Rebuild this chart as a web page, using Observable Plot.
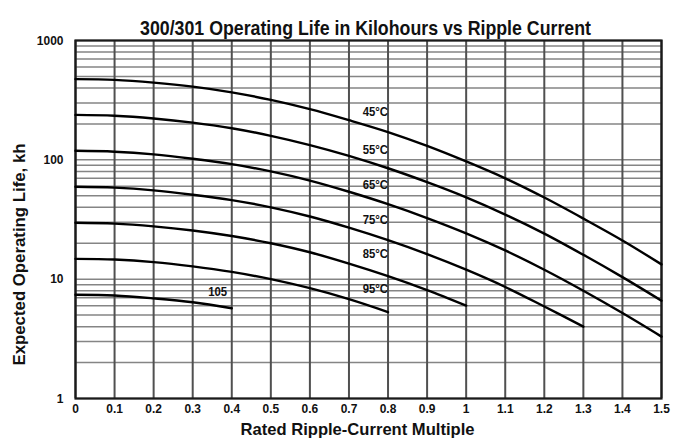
<!DOCTYPE html>
<html>
<head>
<meta charset="utf-8">
<script src="https://cdn.jsdelivr.net/npm/d3@7"></script>
<script src="https://cdn.jsdelivr.net/npm/@observablehq/plot@0.6"></script>
<style>
  html, body { margin: 0; padding: 0; background: #fff; }
  svg text { font-family: "Liberation Sans", Arial, sans-serif; font-weight: bold; }
</style>
</head>
<body>
<div id="chart"></div>
<script>
// ---- data ----
const titleText = "300/301 Operating Life in Kilohours vs Ripple Current";
const xTitle = "Rated Ripple-Current Multiple";
const yTitle = "Expected Operating Life, kh";

const xTicks = [0, 0.1, 0.2, 0.3, 0.4, 0.5, 0.6, 0.7, 0.8, 0.9, 1.0, 1.1, 1.2, 1.3, 1.4, 1.5];
const xTickLabels = ["0", "0.1", "0.2", "0.3", "0.4", "0.5", "0.6", "0.7", "0.8", "0.9", "1", "1.1", "1.2", "1.3", "1.4", "1.5"];
const yTicks = [1, 10, 100, 1000];
const yTickLabels = ["1", "10", "100", "1000"];
const yGrid = [1, 2, 3, 4, 5, 6, 7, 8, 9, 10, 20, 30, 40, 50, 60, 70, 80, 90, 100, 200, 300, 400, 500, 600, 700, 800, 900, 1000];

const seriesNames = ["45°C", "55°C", "65°C", "75°C", "85°C", "95°C", "105"];
const life45 = [475, 468, 444, 411, 368, 318, 266, 215, 171, 131, 97, 70, 48.3, 32.2, 21.1, 13.3];
const life55 = [238, 234, 222, 205, 184, 159, 133, 108, 85, 65, 48.5, 34.8, 24.1, 16, 10.4, 6.6];
const life65 = [119, 117, 111, 102, 92, 80, 67, 54, 42.5, 32.5, 24.2, 17.4, 12, 8.0, 5.2, 3.3];
const life75 = [59.5, 58.5, 55.5, 51, 46, 40, 33.5, 27, 21.2, 16.2, 12, 8.6, 5.9, 4.0];
const life85 = [29.7, 29.2, 27.7, 25.6, 23, 20, 16.8, 13.5, 10.6, 8.1, 6.0];
const life95 = [14.8, 14.6, 13.9, 12.8, 11.5, 10, 8.4, 6.8, 5.3];
const life105 = [7.4, 7.3, 6.9, 6.4, 5.7];

// curve label anchor points (data coordinates)
const labelX = [0.8, 0.8, 0.8, 0.8, 0.8, 0.8, 0.388];
const labelY = [251, 120, 61, 31.4, 16.3, 8.3, 7.8];

// ---- build rows ----
const allSeries = [life45, life55, life65, life75, life85, life95, life105];
const rows = [];
allSeries.forEach((vals, s) => {
  vals.forEach((v, i) => rows.push({series: seriesNames[s], x: xTicks[i], y: v}));
});
const labels = seriesNames.map((n, i) => ({text: n, x: labelX[i], y: labelY[i]}));

const FONT = '"Liberation Sans", Arial, sans-serif';
const INK = "#111";

const chart = Plot.plot({
  width: 678,
  height: 444,
  marginTop: 40,
  marginBottom: 46,
  marginLeft: 75,
  marginRight: 17,
  style: {background: "#fff", fontFamily: FONT},
  x: {domain: [0, 1.5], axis: null},
  y: {type: "log", domain: [1, 1000], axis: null},
  marks: [
    Plot.ruleY(yGrid, {stroke: "#858585", strokeWidth: 1.5}),
    Plot.ruleX(xTicks, {stroke: "#505050", strokeWidth: 2}),
    Plot.frame({stroke: "#1a1a1a", strokeWidth: 2.2}),
    Plot.line(rows, {x: "x", y: "y", z: "series", stroke: "#000", strokeWidth: 2.4, curve: "catmull-rom"}),
    Plot.text(labels, {x: "x", y: "y", text: "text", textAnchor: "end", fontSize: 12.6, fontWeight: "bold", fill: INK}),
    // x tick labels
    Plot.text(xTicks, {x: d => d, text: (d, i) => xTickLabels[i], frameAnchor: "bottom", dy: 14, fontSize: 12.6, fontWeight: "bold", fill: INK}),
    // y tick labels
    Plot.text(yTicks, {y: d => d, text: (d, i) => yTickLabels[i], frameAnchor: "left", dx: -12, textAnchor: "end", fontSize: 12.6, fontWeight: "bold", fill: INK}),
    // titles
    Plot.text([xTitle], {text: d => d, frameAnchor: "bottom", dy: 36, dx: -11, fontSize: 16.5, fontWeight: "bold", fill: INK}),
    Plot.text([yTitle], {text: d => d, frameAnchor: "left", textAnchor: "middle", rotate: -90, dx: -56, dy: 35, fontSize: 16.5, fontWeight: "bold", fill: INK}),
    Plot.text([titleText], {text: d => d, frameAnchor: "top", dy: -20, dx: -3, fontSize: 21, fontWeight: "bold", fill: INK})
  ]
});
document.getElementById("chart").appendChild(chart);

// condense the lettering to mimic a condensed bold face
const targetWidths = new Map([[titleText, 451], [xTitle, 234], [yTitle, 222]]);
chart.querySelectorAll("text").forEach(t => {
  const s = t.textContent;
  const w = t.getComputedTextLength();
  const target = targetWidths.has(s) ? targetWidths.get(s) : (seriesNames.includes(s) ? w * 0.9 : w * 0.95);
  t.setAttribute("textLength", target);
  t.setAttribute("lengthAdjust", "spacingAndGlyphs");
});
</script>
</body>
</html>
